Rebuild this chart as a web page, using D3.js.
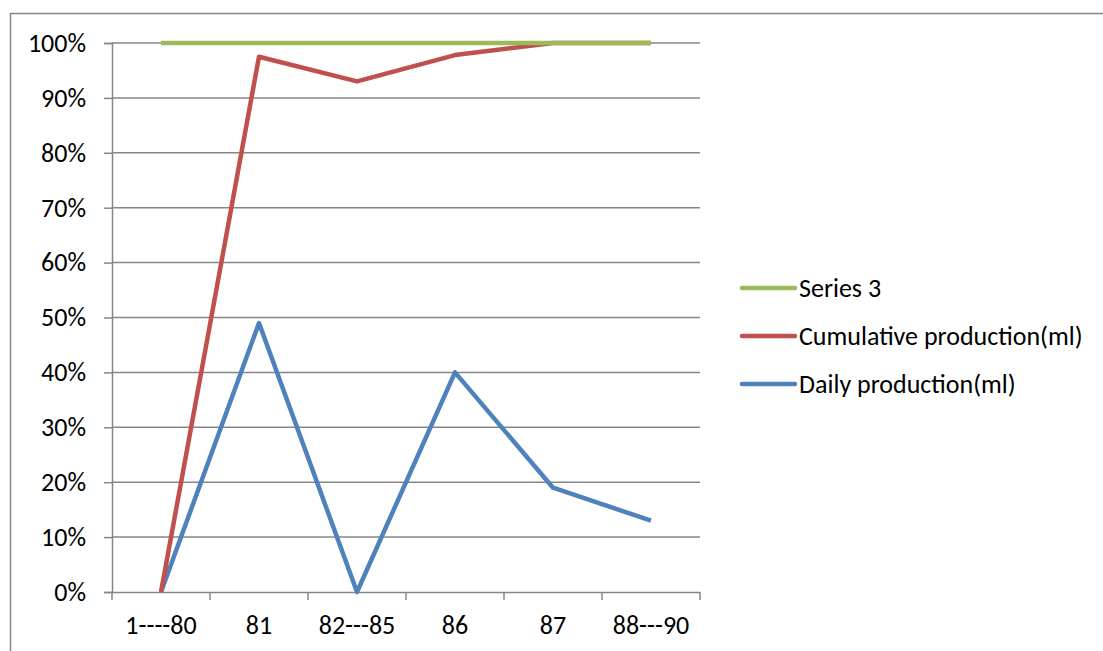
<!DOCTYPE html>
<html>
<head>
  <style>
    body { margin: 0; background: #fff; }
    text { font-family: Carlito, "Open Sans", "Liberation Sans", sans-serif; }
  </style>
</head>
<body>
  <svg id="chart"></svg>
  <script src="https://d3js.org/d3.v7.min.js"></script>
  <script>
    const categories = ["1----80", "81", "82---85", "86", "87", "88---90"];
    const series3 = [1, 1, 1, 1, 1, 1];
    const cumulative = [0, 0.975, 0.93, 0.978, 1, 1];
    const daily = [0, 0.49, 0, 0.40, 0.19, 0.13];
    const yTicks = [0, 0.1, 0.2, 0.3, 0.4, 0.5, 0.6, 0.7, 0.8, 0.9, 1];

    const series = [
      { name: "Series 3", values: series3, color: "#9bbb59" },
      { name: "Cumulative production(ml)", values: cumulative, color: "#c0504d" },
      { name: "Daily production(ml)", values: daily, color: "#4f81bd" }
    ];

    const width = 1103, height = 651;
    const fontSize = 26;
    const svg = d3.select("#chart").attr("width", width).attr("height", height);

    // outer chart frame
    svg.append("rect")
      .attr("x", 10.5).attr("y", 13.5)
      .attr("width", 1100).attr("height", 660)
      .attr("fill", "none").attr("stroke", "#868686").attr("stroke-width", 1.5);

    const x = d3.scaleBand().domain(categories).range([112, 700]);
    const y = d3.scaleLinear().domain([0, 1]).range([592, 43]);

    // gridlines
    svg.append("g")
      .selectAll("line")
      .data(yTicks.slice(1))
      .join("line")
      .attr("x1", 112).attr("x2", 700)
      .attr("y1", d => y(d)).attr("y2", d => y(d))
      .attr("stroke", "#868686").attr("stroke-width", 1.5);

    // y axis
    const yAxis = svg.append("g")
      .attr("transform", "translate(112,0)")
      .call(d3.axisLeft(y).tickValues(yTicks).tickFormat(d3.format(".0%")).tickSize(8).tickPadding(18));
    yAxis.select(".domain").attr("stroke", "#868686").attr("stroke-width", 1.5);
    yAxis.selectAll(".tick line").attr("stroke", "#868686").attr("stroke-width", 1.5);
    yAxis.selectAll("text").attr("font-size", fontSize).attr("fill", "#000");

    // x axis
    const xAxis = svg.append("g")
      .attr("transform", "translate(0,592)")
      .call(d3.axisBottom(x).tickSize(0).tickPadding(24));
    xAxis.select(".domain").attr("stroke", "#868686").attr("stroke-width", 1.5);
    xAxis.selectAll("text").attr("font-size", fontSize).attr("fill", "#000");
    xAxis.selectAll(".boundary")
      .data(d3.range(categories.length + 1))
      .join("line")
      .attr("x1", i => 112 + i * x.step()).attr("x2", i => 112 + i * x.step())
      .attr("y1", 0).attr("y2", 8)
      .attr("stroke", "#868686").attr("stroke-width", 1.5);

    const line = d3.line()
      .x((d, i) => x(categories[i]) + x.bandwidth() / 2)
      .y(d => y(d));

    // draw in reverse so series 3 ends on top
    svg.append("g")
      .selectAll("path")
      .data(series.slice().reverse())
      .join("path")
      .attr("d", d => line(d.values))
      .attr("fill", "none")
      .attr("stroke", d => d.color)
      .attr("stroke-width", 4.5)
      .attr("stroke-linejoin", "round");

    // legend
    const legend = svg.append("g")
      .selectAll("g")
      .data(series)
      .join("g")
      .attr("transform", (d, i) => `translate(742,${288 + i * 48})`);
    legend.append("line")
      .attr("x1", 0).attr("x2", 53)
      .attr("stroke", d => d.color).attr("stroke-width", 4.5)
      .attr("stroke-linecap", "round");
    legend.append("text")
      .attr("x", 57).attr("dy", "0.35em")
      .attr("font-size", fontSize)
      .text(d => d.name);
  </script>
</body>
</html>
